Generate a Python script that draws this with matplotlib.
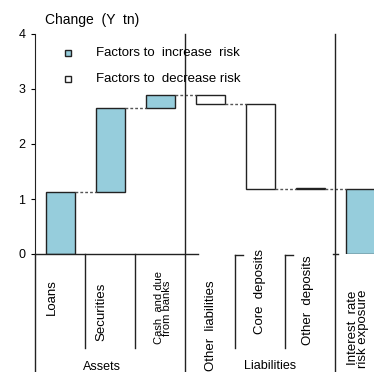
import numpy as np
import matplotlib.pyplot as plt

plt.rcParams['font.family'] = ['Liberation Sans', 'DejaVu Sans']

# dados (Y tn)
categorias = ['Loans', 'Securities', 'Cash  and due\nfrom banks', 'Other  liabilities',
              'Core  deposits', 'Other  deposits', 'Interest  rate\nrisk exposure']
variacoes = [1.12, 1.53, 0.24, -0.17, -1.53, -0.01]
grupos = ['Assets', 'Liabilities']

azul = '#96CDDC'

fig = plt.figure(figsize=(3.74, 3.72), dpi=100)
ax = fig.add_axes([35 / 374, 118 / 372, 339 / 374, 220 / 372])

# barras em cascata
acum = np.concatenate([[0], np.cumsum(variacoes)])
largura = 0.58
x = np.arange(len(categorias))
for i, d in enumerate(variacoes):
    base = acum[i] if d >= 0 else acum[i + 1]
    cor = azul if d >= 0 else 'white'
    altura = abs(d) if abs(d) > 0.02 else 0.012
    ax.bar(x[i], altura, bottom=base, width=largura, color=cor, edgecolor='#222222', linewidth=1)
# total final
ax.bar(x[-1], acum[-1], width=largura, color=azul, edgecolor='#222222', linewidth=1)

# linhas tracejadas de ligação
for i in range(len(categorias) - 1):
    ax.plot([x[i] + largura / 2, x[i + 1] - largura / 2], [acum[i + 1], acum[i + 1]],
            color='#555555', lw=1, linestyle=(0, (2, 1.5)))

ax.set_xlim(-0.5, 6.28)
ax.set_ylim(0, 4)
ax.set_yticks([0, 1, 2, 3, 4])
ax.tick_params(axis='y', length=3, labelsize=9, pad=4)
ax.set_xticks([])
for s in ['top', 'right', 'bottom']:
    ax.spines[s].set_visible(False)
ax.spines['left'].set_color('#222222')

# linha base do grupo Assets
ax.plot([-0.5, 2.75], [0, 0], color='#222222', lw=1, clip_on=False)

# divisórias
for xv in [2.5, 5.5]:
    ax.plot([xv, xv], [4, -2.2], color='#222222', lw=1, clip_on=False)
ax.plot([-0.5, -0.5], [0, -2.2], color='#222222', lw=1, clip_on=False)
for xv in [0.5, 1.5]:
    ax.plot([xv, xv], [0, -1.71], color='#222222', lw=1, clip_on=False)
for xv in [3.5, 4.5]:
    ax.plot([xv, xv], [-0.02, -1.71], color='#222222', lw=1, clip_on=False)
    ax.plot([xv, xv + 0.16], [-0.02, -0.02], color='#222222', lw=1, clip_on=False)
ax.plot([5.45, 5.55], [0, 0], color='#222222', lw=1, clip_on=False)

# rótulos das categorias
pos_rot = [(-0.16, -0.78, 9.5), (0.83, -1.05, 9.5), (2.06, -0.98, 8),
           (3.01, -1.31, 9.5), (4.0, -0.68, 9.5), (4.96, -0.84, 9.5), (5.96, -1.35, 9.5)]
for nome, (xt, yt, fs) in zip(categorias, pos_rot):
    ax.text(xt, yt, nome, rotation=90, ha='center', va='center', fontsize=fs,
            linespacing=0.85, clip_on=False)

ax.text(0.83, -2.05, grupos[0], ha='center', va='center', fontsize=9)
ax.text(4.2, -2.04, grupos[1], ha='center', va='center', fontsize=9)

# título do eixo
ax.text(-0.3, 4.25, 'Change  (Y  tn)', ha='left', va='center', fontsize=10, clip_on=False)

# legenda
ax.plot(0.16, 3.66, 's', ms=4.5, mfc=azul, mec='#222222', mew=1)
ax.plot(0.16, 3.18, 's', ms=4.5, mfc='white', mec='#222222', mew=1)
ax.text(0.71, 3.66, 'Factors to  increase  risk', ha='left', va='center', fontsize=9.5)
ax.text(0.71, 3.18, 'Factors to  decrease risk', ha='left', va='center', fontsize=9.5)

plt.savefig('out.png', dpi=100)
